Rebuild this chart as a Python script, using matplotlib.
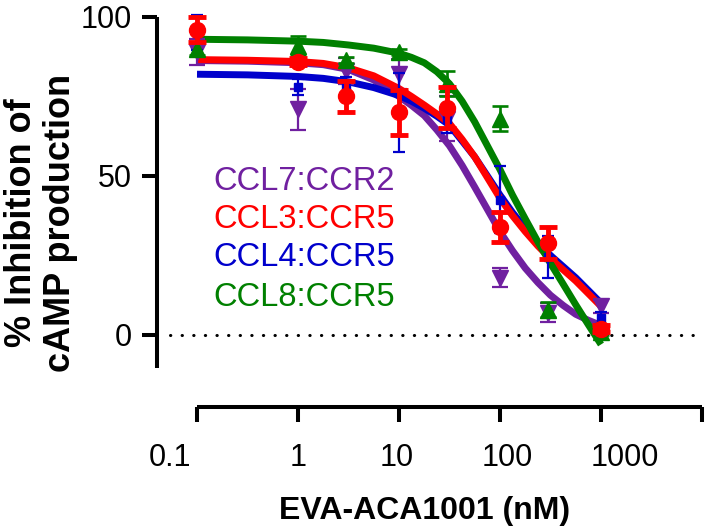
import numpy as np
import matplotlib
matplotlib.use("Agg")
import matplotlib.pyplot as plt
from matplotlib.transforms import blended_transform_factory, ScaledTranslation
from matplotlib.ticker import NullLocator

plt.rcParams['font.family'] = ['Liberation Sans', 'DejaVu Sans']

# ---------------- data ----------------
doses = [0.1, 1, 3, 10, 30, 100, 300, 1000]

ccl7_mean = [89, 71, 83, 82, 68, 18, 7, 9]
ccl7_err = [4, 6.5, 4, 4.7, 7, 3, 3, 2]

ccl3_mean = [96, 86, 75, 70, 71.5, 34, 29, 2]
ccl3_err = [4, 1, 5, 7, 6.5, 4.7, 5, 1]

ccl4_mean = [95, 78, 78, 70, 68, 42.5, 24.5, 5.3]
ccl4_err = [5.5, 2.5, 3, 12.5, 4.5, 10.5, 6.5, 2]

ccl8_mean = [90, 91, 86.5, 89, 79, 68, 8, 1]
ccl8_err = [2, 3, 1, 1, 4, 4, 2.5, 1]

# fitted curves
curve_x = [0.1, 0.316, 1, 1.78, 3.16, 5.62, 10, 13.3, 17.8, 23.7, 31.6, 42.2,
           56.2, 75, 100, 133, 178, 237, 316, 422, 562, 750, 1000]
ccl7_curve = [86.3, 86.1, 85.6, 85.0, 83.5, 80.2, 75.0, 72.2, 69.0, 64.5, 59.5, 53.3,
              46.5, 39.5, 32.5, 26.5, 21.0, 16.5, 12.5, 9.3, 6.5, 4.6, 3.0]
ccl3_curve = [86.6, 86.4, 86.0, 85.4, 84.0, 81.5, 77.5, 75.0, 72.3, 69.5, 66.5, 61.5,
              56.0, 49.5, 43.0, 37.5, 32.5, 28.0, 24.0, 20.5, 17.0, 13.0, 9.0]
ccl4_curve = [82.0, 81.8, 81.3, 80.7, 79.6, 77.8, 75.3, 73.5, 71.3, 68.8, 66.0, 61.0,
              56.0, 50.0, 44.0, 38.5, 33.5, 29.0, 25.0, 21.5, 18.0, 14.0, 10.0]
ccl8_curve = [93.0, 92.8, 92.4, 92.0, 91.2, 90.2, 88.6, 87.3, 85.6, 82.8, 79.0, 73.5,
              67.0, 59.5, 52.0, 44.0, 36.5, 29.3, 22.5, 16.0, 9.5, 3.2, -3.0]

series_names = ["CCL7:CCR2", "CCL3:CCR5", "CCL4:CCR5", "CCL8:CCR5"]

xtick_vals = [0.1, 1, 10, 100, 1000, 10000]
xtick_labels = ["0.1", "1", "10", "100", "1000", ""]
ytick_vals = [0, 50, 100]

# ---------------- style ----------------
PURPLE = '#7020A0'
RED = '#FF0000'
BLUE = '#0000CC'
GREEN = '#008000'

W, H = 709, 532
fig = plt.figure(figsize=(W / 100, H / 100), dpi=100)
ax = fig.add_axes([157 / W, 1 - 368 / H, 545 / W, 351 / H])
ax.set_xscale('log')
ax.set_xlim(10 ** (-1 - 40 / 101), 1e4)
ax.set_ylim(-10.4, 100)

for s in ['top', 'right']:
    ax.spines[s].set_visible(False)
for s in ['left', 'bottom']:
    ax.spines[s].set_linewidth(2.9)
    ax.spines[s].set_capstyle('butt')
ax.spines['bottom'].set_position(('outward', 28.1))
ax.spines['bottom'].set_bounds(0.1, 1e4)

ax.set_xticks(xtick_vals)
ax.xaxis.set_minor_locator(NullLocator())
ax.tick_params(axis='x', length=10.8, width=2.9, direction='out', labelbottom=False)
ax.set_yticks(ytick_vals)
ax.set_yticklabels([str(v) for v in ytick_vals])
ax.tick_params(axis='y', length=10.8, width=2.9, direction='out', labelsize=22, pad=7.2)

# x tick labels as text (slightly offset like the reference)
label_dx = [-27, 0, -2, 7, 24, 0]
trans_base = blended_transform_factory(ax.transData, ax.transAxes)
for v, lab, dx in zip(xtick_vals, xtick_labels, label_dx):
    if not lab:
        continue
    tr = trans_base + ScaledTranslation(dx / 100, -90 / 100, fig.dpi_scale_trans)
    ax.text(v, 0, lab, transform=tr, ha='center', va='center', fontsize=22, clip_on=False)

# dotted zero line
ax.axhline(0, xmin=(170 - 157) / 545, xmax=(694 - 157) / 545, color='black', lw=2.2,
           ls=(0, (0.1, 3.7)), dash_capstyle='round', zorder=1)

# curves
LW = 5.0
for cy, col, z in [(ccl7_curve, PURPLE, 2.0), (ccl4_curve, BLUE, 2.1),
                   (ccl3_curve, RED, 2.2), (ccl8_curve, GREEN, 2.3)]:
    ax.plot(curve_x, cy, color=col, lw=LW, solid_capstyle='butt',
            solid_joinstyle='round', zorder=z, clip_on=False)


def pts(mean, err, color, marker, ms, elw, cap, capth, z):
    eb = ax.errorbar(doses, mean, yerr=err, fmt='none', ecolor=color, elinewidth=elw,
                     capsize=cap, capthick=capth, zorder=z)
    for child in eb.get_children():
        child.set_clip_on(False)
    ax.plot(doses, mean, ls='none', marker=marker, ms=ms, color=color, mec=color,
            zorder=z + 0.05, clip_on=False)


pts(ccl7_mean, ccl7_err, PURPLE, 'v', 11, 1.6, 5.6, 1.6, 3.0)
pts(ccl4_mean, ccl4_err, BLUE, 's', 5.5, 1.6, 4.2, 1.6, 3.1)
pts(ccl8_mean, ccl8_err, GREEN, '^', 11, 1.9, 5.6, 1.9, 3.2)
pts(ccl3_mean, ccl3_err, RED, 'o', 11.5, 3.5, 6.5, 3.5, 3.3)

# series labels
label_y = [181, 220, 258, 297]
for name, col, yy in zip(series_names, [PURPLE, RED, BLUE, GREEN], label_y):
    fig.text(213 / W, 1 - yy / H, name, color=col, fontsize=23.5, ha='left', va='center')

# axis titles
fig.text(425 / W, 1 - 511 / H, 'EVA-ACA1001 (nM)', fontsize=23, fontweight='bold',
         ha='center', va='center')
fig.text(41 / W, 1 - 223 / H, '% Inhibition of\ncAMP production', fontsize=26,
         fontweight='bold', rotation=90, ha='center', va='center', multialignment='center',
         linespacing=1.12)

fig.savefig('out.png', dpi=100)
